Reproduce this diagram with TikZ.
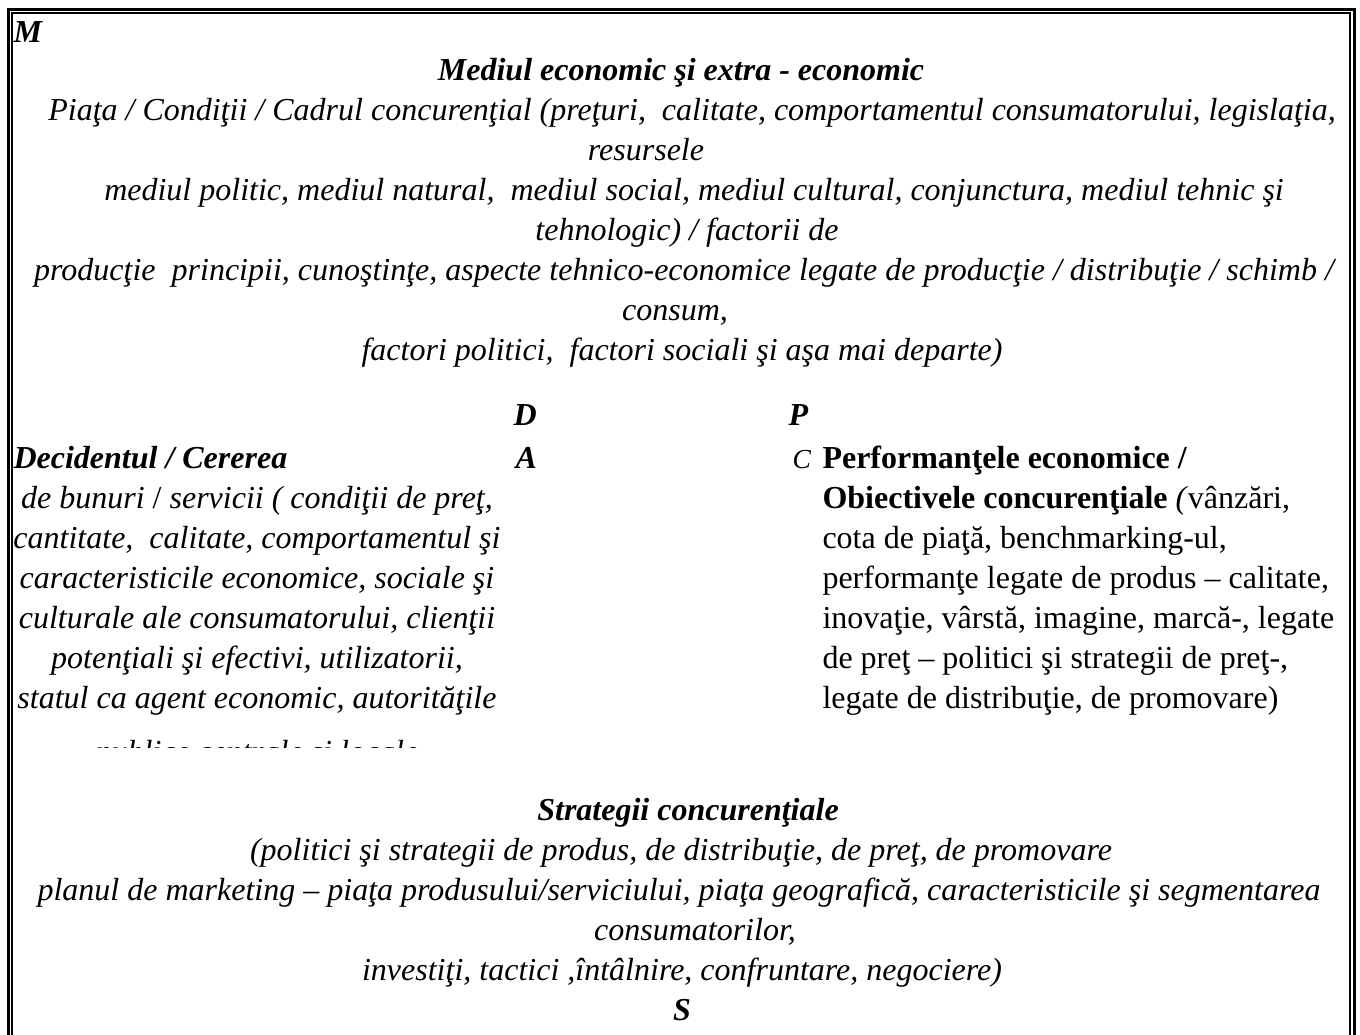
\documentclass[tikz,border=0pt]{standalone}
\usepackage{fontspec}
\setmainfont{Liberation Serif}
\begin{document}
\begin{tikzpicture}[x=0.4pt, y=-0.4pt,
  rand/.style={anchor=base, inner sep=0pt, font=\fontsize{12.8}{15}\selectfont\itshape},
  titlu/.style={anchor=base, inner sep=0pt, font=\fontsize{12.8}{15}\selectfont\bfseries\itshape},
  drept/.style={anchor=base west, inner sep=0pt, font=\fontsize{12.8}{15}\selectfont}]

\useasboundingbox (0,0) rectangle (1360,1034);
\clip (0,0) rectangle (1360,1034);

% chenarul dublu
\draw[line width=1.2pt] (8.5,1100) |- (1354.5,9) -- (1354.5,1100);
\draw[line width=0.7pt] (12,1100) |- (1350,13) -- (1350,1100);

% mediul
\node[titlu, anchor=base west] (m) at (13,42) {M};
\node[titlu] (mediu) at (681,80) {Mediul economic şi extra - economic};
\node[rand] (piata) at (692,120) {Piaţa / Condiţii / Cadrul concurenţial (preţuri,\ \ calitate, comportamentul consumatorului, legislaţia,};
\node[rand] (resurse) at (646,160) {resursele};
\node[rand] (politic) at (694,200) {mediul politic, mediul natural,\ \ mediul social, mediul cultural, conjunctura, mediul tehnic şi};
\node[rand] (tehno) at (687,240) {tehnologic) / factorii de};
\node[rand] (productie) at (684,280) {producţie\ \ principii, cunoştinţe, aspecte tehnico-economice legate de producţie / distribuţie / schimb /};
\node[rand] (consum) at (675,320) {consum,};
\node[rand] (factori) at (682,360) {factori politici,\ \ factori sociali şi aşa mai departe)};

\node[titlu, anchor=base west] (d) at (513,425) {D};
\node[titlu, anchor=base west] (p) at (788,425) {P};
\node[titlu, anchor=base west] (a) at (515,468) {A};
\node[anchor=base west, inner sep=0pt, font=\fontsize{11}{12}\selectfont\itshape] (c) at (792,468) {C};

% decidentul
\node[titlu, anchor=base west] (decident) at (13,468) {Decidentul / Cererea};
\node[rand] (st1) at (257,508) {de bunuri {\upshape/} servicii ( condiţii de preţ,};
\node[rand] (st2) at (257,548) {cantitate,\ \ calitate, comportamentul şi};
\node[rand] (st3) at (257,588) {caracteristicile economice, sociale şi};
\node[rand] (st4) at (257,628) {culturale ale consumatorului, clienţii};
\node[rand] (st5) at (257,668) {potenţiali şi efectivi, utilizatorii,};
\node[rand] (st6) at (257,708) {statul ca agent economic, autorităţile};
\begin{scope}
  \clip (0,739) rectangle (520,747);
  \node[rand] (st7) at (257,762) {publice centrale şi locale};
\end{scope}

% performantele
\node[drept] (dr1) at (822,468) {\bfseries Performanţele economice /};
\node[drept] (dr2) at (822,508) {\textbf{Obiectivele concurenţiale} \textit{(}vânzări,};
\node[drept] (dr3) at (822,548) {cota de piaţă, benchmarking-ul,};
\node[drept] (dr4) at (822,588) {performanţe legate de produs – calitate,};
\node[drept] (dr5) at (822,628) {inovaţie, vârstă, imagine, marcă-, legate};
\node[drept] (dr6) at (822,668) {de preţ – politici şi strategii de preţ-,};
\node[drept] (dr7) at (822,708) {legate de distribuţie, de promovare)};

% strategii
\node[titlu] (strategii) at (688,820) {Strategii concurenţiale};
\node[rand] (sg1) at (681,860) {(politici şi strategii de produs, de distribuţie, de preţ, de promovare};
\node[rand] (sg2) at (679,900) {planul de marketing – piaţa produsului/serviciului, piaţa geografică, caracteristicile şi segmentarea};
\node[rand] (sg3) at (695,940) {consumatorilor,};
\node[rand] (sg4) at (682,980) {investiţi, tactici ,întâlnire, confruntare, negociere)};
\node[titlu] (s) at (682,1020) {S};

\end{tikzpicture}
\end{document}
